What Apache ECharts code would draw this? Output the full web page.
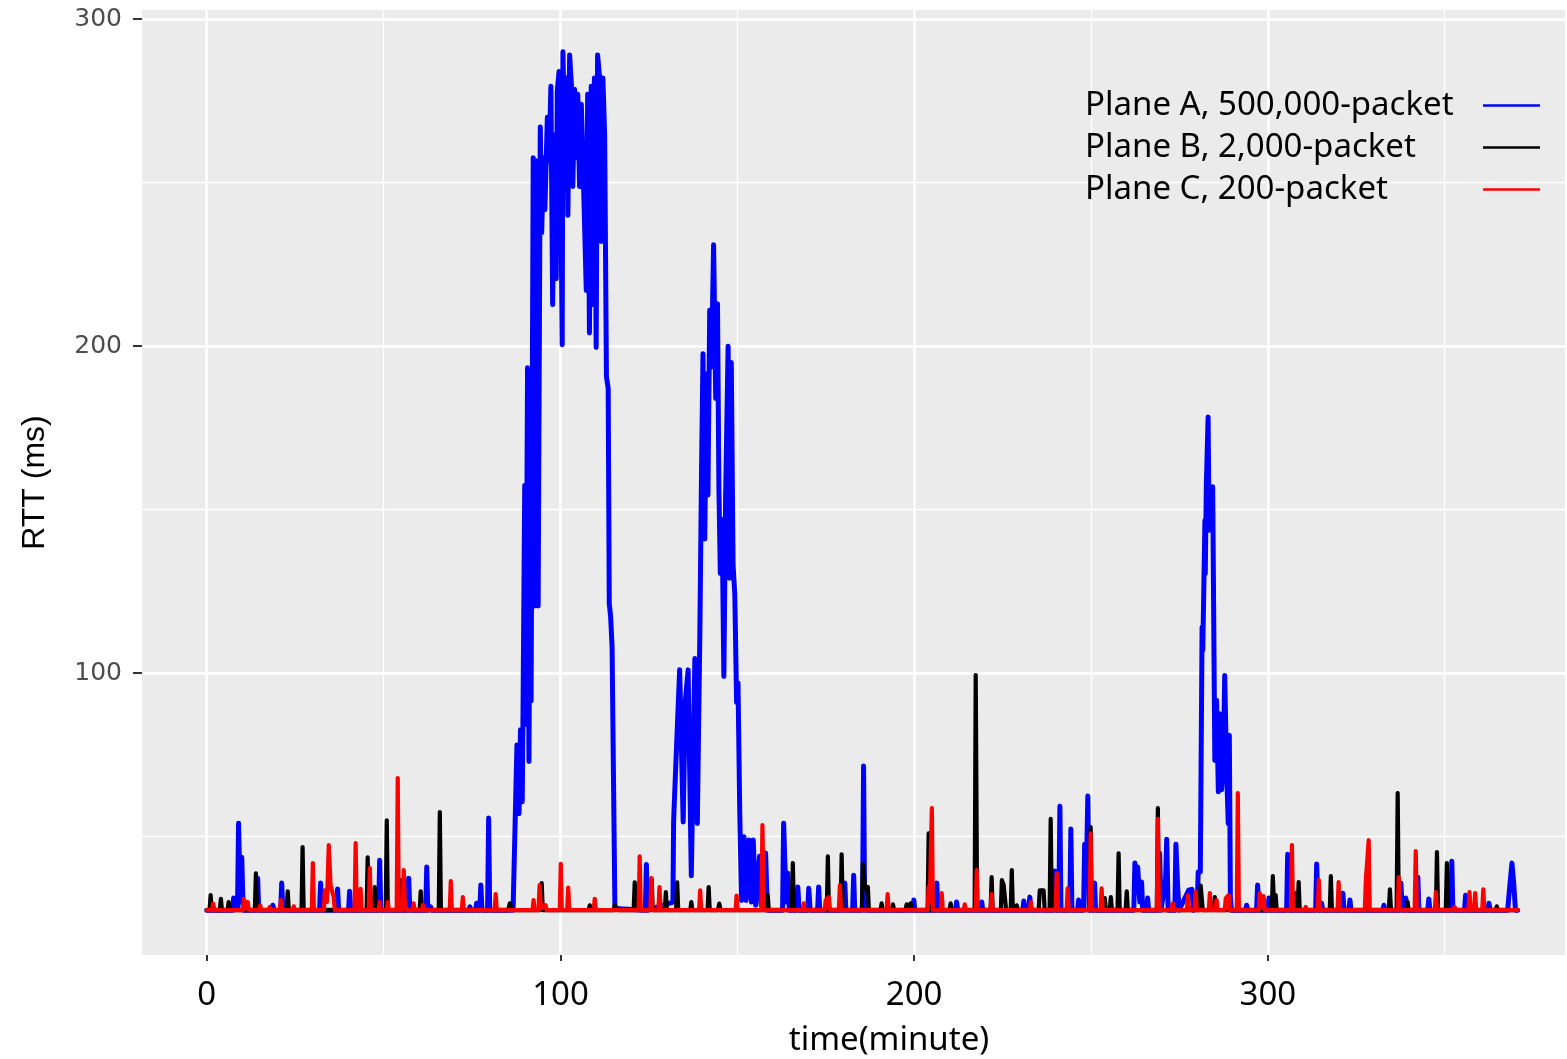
<!DOCTYPE html>
<html>
<head>
<meta charset="utf-8">
<script src="https://cdn.jsdelivr.net/npm/echarts@6/dist/echarts.min.js"></script>
<style>html,body{margin:0;padding:0;background:#fff}#c{width:1567px;height:1059px}</style>
</head>
<body>
<div id="c"></div>
<script>
// ---- data: [time (minute), RTT (ms)] ----
const seriesNames = ['Plane A, 500,000-packet', 'Plane B, 2,000-packet', 'Plane C, 200-packet'];
const xTicks = [0, 100, 200, 300];
const xMinorTicks = [50, 150, 250, 350];
const yTicks = [100, 200, 300];
const yMinorTicks = [50, 150, 250];

const planeA = [
[0,27.5],[7.3,27.5],[7.6,31.2],[8,27.8],[8.7,28],[9,54.1],[9.5,30],[9.9,43.7],[10.3,27.5],
[14.1,27.5],[14.4,37.3],[14.7,27.5],[18.4,27.5],[18.7,29],[19,27.5],[20.9,27.5],[21.2,35.8],[21.5,27.5],
[31.9,27.5],[32.2,35.8],[32.5,27.5],[36.7,27.5],[37,34],[37.3,27.5],[40.1,27.5],[40.4,33.3],[40.7,27.5],
[48.6,27.5],[48.9,42.8],[49.2,27.5],[56.8,27.5],[57.1,37.3],[57.4,27.5],[61.9,27.5],[62.2,40.7],[62.5,27.5],[63.3,28.5],[63.6,27.5],
[74.1,27.5],[74.4,28.5],[74.7,27.5],[76,27.5],[76.3,29.6],[76.6,27.5],[77.2,27.5],[77.5,35.2],[77.8,27.5],
[79.4,27.5],[79.7,55.7],[80,27.5],
[86.6,27.5],[87.1,50],[87.7,78],[88.3,57],[88.7,82.7],[89.2,60.7],[89.4,85],[89.9,157.4],[90.2,84.4],[90.7,193.4],[91.1,73],[91.5,159],[91.7,91.5],[92.3,257.6],[92.7,120.5],[93.2,256.7],[93.7,120.5],[94.3,267],[94.7,234.7],[95.2,257.6],[95.6,241.7],[96.3,270],[96.8,256.7],[97.3,279.5],[97.8,212.7],[98.3,264.6],[98.8,220.6],[99.1,277.8],[99.6,284],[100.1,247],[100.5,200.4],[100.7,290],[101.2,264.6],[101.7,282],[102.1,240],[102.6,289],[103.1,280],[103.5,248.8],[104,278.6],[104.5,257.6],[104.9,277],[105.4,248.8],[105.9,274],[106.3,259],[106.8,238],[107.3,217],[107.7,277],[108.2,204],[108.7,279.5],[109.1,212.7],[109.6,282],[110.1,199.6],[110.5,289],[111.1,282],[111.5,232],[112,282],[112.5,264.6],[113,190.8],[113.5,187],[113.8,121.4],[114.2,117],[114.6,108],[114.9,77.4],[115.4,28],
[124,27.5],[124.3,41.5],[124.6,27.5],
[131.8,30],[132,55],[132.8,77],[133.7,101],[134.7,54.5],[135.3,91.5],[136.1,101],[137,38],[138,104.5],[138.7,54],[139.4,111],[139.9,163],[140.3,197.7],[140.8,141],[141.3,191.5],[141.7,154.5],[142.2,211],[142.7,193.6],[143.3,231],[143.9,184],[144.4,213],[144.8,156.6],[145.2,130.5],[145.7,147],[146.2,99],[146.7,154],[147.4,200],[147.8,129],[148.3,195],[148.8,133],[149.3,124],[149.8,91],[150.2,97],[150.7,56.6],[151.2,30.5],[151.9,50],[152.5,30.5],[153.3,49],[154,30],[154.5,49],[155.2,29],[156.3,44],[156.8,29],[158,45],[158.5,27.5],
[162.8,27.5],[163.1,54.1],[163.8,30],[164.3,38.8],[164.7,27.5],[166.8,27.5],[167.1,34.6],[167.5,27.5],[169.9,27.5],[170.2,34.2],[170.6,27.5],
[172.7,27.5],[173,34.6],[173.3,27.5],[180.1,27.5],[180.4,35.8],[180.7,27.5],[182.6,27.5],[182.9,38.2],[183.2,27.5],
[185.4,27.5],[185.7,71.6],[186,27.5],[199.6,27.5],[199.9,30.6],[200.2,27.5],[206.1,27.5],[206.4,35.8],[206.7,27.5],
[211.7,27.5],[212,30],[212.3,27.5],[218.8,27.5],[219.1,30],[219.4,27.5],
[230.7,27.5],[231,30.3],[231.3,27.5],[232.4,27.5],[232.7,31.5],[233,27.5],
[239.5,27.5],[239.8,39.5],[240.2,27.5],[240.9,27.5],[241.2,59.3],[241.5,27.5],[244,27.5],[244.3,52.3],[244.6,27.5],
[246.2,27.5],[246.5,30.6],[246.8,27.5],[247.9,27.5],[248.2,47.7],[248.6,35],[249.1,62.4],[249.5,27.5],[250.7,27.5],[251,35.8],[251.3,27.5],
[262.1,27.5],[262.4,41.9],[262.8,33],[263.2,40.7],[263.8,30],[264.3,36.1],[264.6,27.5],[265.7,27.5],[266,31.2],[266.3,27.5],
[269.1,27.5],[269.4,44.9],[269.8,27.5],[271.1,37.3],[271.4,49.2],[271.8,27.5],[273.7,27.5],[274,47.7],[274.5,34.6],[274.9,27.5],
[277.6,33.6],[278.5,33.9],[279,27.5],[280,28],[280.3,39.2],[280.9,39.2],[281.4,114],[281.6,107],[282.2,146.7],[282.3,130.4],[282.6,157.4],[283.1,178.3],[283.4,143.7],[283.7,157],[284.2,144.7],[284.4,157],[285,73.3],[285.5,91.7],[286,63.7],[286.4,87.6],[286.9,64.3],[287.4,72.4],[287.8,99.3],[288.3,71.3],[288.8,54],[289.1,81],[289.4,31.5],[289.7,27.5],
[293.7,27.5],[294,29],[294.3,27.5],[296.8,27.5],[297.1,35.2],[297.4,27.5],[300,27.5],[300.3,31.2],[300.6,27.5],
[305.3,27.5],[305.6,44.6],[306,27.5],[307.6,27.5],[307.9,32.7],[308.2,27.5],
[313.5,27.5],[313.8,41.6],[314.2,27.5],[314.9,27.5],[315.2,29.6],[315.5,27.5],
[320.9,27.5],[321.2,32.7],[321.5,27.5],[322.9,27.5],[323.2,30.6],[323.5,27.5],
[332.5,27.5],[332.8,29],[333.1,27.5],[337.3,27.5],[337.6,35.8],[338,27.5],[338.7,27.5],[339,31.2],[339.3,27.5],
[342.1,27.5],[342.4,37.6],[342.7,27.5],[345.2,27.5],[345.5,30.9],[345.8,27.5],
[351.7,27.5],[352,42.5],[352.3,27.5],[355.6,27.5],[355.9,32.1],[356.2,27.5],
[362.2,27.5],[362.5,29.6],[362.8,27.5],[367.8,27.5],[368.1,31.5],[369,41.9],[369.5,35.8],[370,27.5],[370.6,27.5]
];

const planeB = [
[0,27.5],[0.8,27.5],[1.1,32.1],[1.4,27.5],[3.7,27.5],[4,31],[4.3,27.5],[5.9,27.5],[6.2,30],[6.5,27.5],
[13.6,27.5],[13.9,38.8],[14.2,27.5],[22.6,27.5],[22.9,33.3],[23.2,27.5],[26.8,27.5],[27.1,46.8],[27.4,27.5],
[45.2,27.5],[45.5,43.7],[45.8,27.5],[47.2,27.5],[47.5,34.6],[47.8,27.5],[50.6,27.5],[50.9,55],[51.2,27.5],
[54.5,27.5],[54.8,36.7],[55.1,27.5],[60.2,27.5],[60.5,33.3],[60.8,27.5],[65.6,27.5],[65.9,57.5],[66.2,27.5],
[85.2,27.5],[85.7,29.6],[86.2,28],[87,27.5],[94.4,27.5],[94.7,35.8],[95,27.5],[108,27.5],[108.3,29],[108.6,27.5],
[115,27.5],[115.4,29],[116,28],[116.6,27.5],[120.7,27.5],[121,36],[121.3,27.5],[125.5,27.5],[125.8,37],[126.1,27.5],
[129.5,27.5],[129.8,33],[130.1,27.5],[132.7,27.5],[133,36],[133.3,27.5],[136.7,27.5],[137,30],[137.3,27.5],
[141.6,27.5],[141.9,34.6],[142.2,27.5],[144.5,27.5],[144.9,29.5],[145.3,27.5],
[158.3,27.5],[158.6,32.1],[158.9,27.5],[165.4,27.5],[165.7,41.9],[166,27.5],
[175.3,27.5],[175.6,44],[175.9,27.5],[179.2,27.5],[179.5,44.6],[179.8,27.5],
[185.2,27.5],[185.5,41.6],[186.2,34],[186.9,34.6],[187.2,27.5],
[190.5,27.5],[190.8,29.6],[191.1,27.5],[193.7,27.5],[194,29.3],[194.3,27.5],
[197.5,27.5],[197.9,29.3],[198.5,28.5],[199,29.6],[199.4,27.5],[203.8,27.5],[204.1,51],[204.5,27.5],
[210,27.5],[210.3,29.6],[210.6,27.5],[217.1,27.5],[217.4,99.4],[217.8,27.5],
[221.6,27.5],[221.9,37.6],[222.2,27.5],[224.5,27.5],[224.8,36.7],[225.3,35.2],[225.6,35.2],[226,27.5],
[227.3,27.5],[227.6,39.8],[227.9,27.5],[228.7,27.5],[229,29],[229.3,27.5],
[235.2,27.5],[235.5,33.6],[236.6,33.6],[236.9,27.5],[238.3,27.5],[238.6,55.4],[238.9,27.5],
[249.6,27.5],[249.9,52.9],[250.2,27.5],[253.6,27.5],[253.9,31.2],[254.2,27.5],[255.3,27.5],[255.6,31.5],[255.9,27.5],
[257.5,27.5],[257.8,44.9],[258.1,27.5],[259.8,27.5],[260.1,33.3],[260.4,27.5],
[268.6,27.5],[268.9,58.7],[269.2,27.5],[280.7,27.5],[281,35],[281.3,35.2],[281.6,27.5],
[284.7,27.5],[285,31.5],[285.3,27.5],[301.1,27.5],[301.4,37.9],[301.8,27.5],[302.2,32.1],[302.5,27.5],
[308.4,27.5],[308.7,36.1],[309,27.5],[317.5,27.5],[317.8,37.9],[318.1,27.5],
[327.7,27.5],[328,39.2],[328.3,27.5],[334.2,27.5],[334.5,33.9],[334.8,27.5],
[336.4,27.5],[336.7,63.3],[337,27.5],[339.2,27.5],[339.5,30],[339.8,27.5],
[347.5,27.5],[347.8,45.3],[348.1,27.5],[350.3,27.5],[350.6,41.9],[350.9,27.5],
[354.5,27.5],[354.8,28.1],[355.1,27.5],[364.4,27.5],[364.7,28.7],[365,27.5],[370.6,27.5]
];

const planeC = [
[0,27.5],[1.5,27.5],[1.8,29.5],[2.2,27.5],[10.2,27.5],[10.5,31],[11,28],[11.6,30],[11.9,27.5],
[14.8,27.5],[15.1,29],[15.4,27.5],[17.5,27.5],[17.8,28.5],[18.1,27.5],[20.7,27.5],[21,30.6],[21.3,27.5],
[24.3,27.5],[24.6,28.7],[24.9,27.5],[29.7,27.5],[30,41.9],[30.3,27.5],
[33.1,27.5],[33.4,33.6],[34,30],[34.5,47.4],[35,35.2],[35.9,31.5],[36.2,27.5],
[41.8,27.5],[42.1,48],[42.4,27.5],[43.2,27.5],[43.5,34],[43.8,27.5],[45.8,27.5],[46.1,40.4],[46.4,27.5],
[48.6,27.5],[48.9,30],[49.2,27.5],[50.9,27.5],[51.2,30],[51.5,27.5],
[53.7,27.5],[54,67.9],[54.3,27.5],[55.4,27.5],[55.7,39.8],[56,30],[56.4,27.5],
[58.2,27.5],[58.5,29.6],[58.8,27.5],[60.8,27.5],[61.1,29.1],[61.4,27.5],
[68.7,27.5],[69,36.4],[69.3,27.5],[72.1,27.5],[72.4,31.5],[72.7,27.5],[81.4,27.5],[81.7,32.4],[82,27.5],
[92.1,27.5],[92.4,30.6],[92.7,27.5],[93.8,27.5],[94.1,35.2],[94.5,28],[95.8,29],[96.1,27.5],
[99.8,27.5],[100.1,41.7],[100.4,27.5],[101.9,27.5],[102.2,34.4],[102.5,27.5],[109.4,27.5],[109.7,31],[110,27.5],
[122.1,27.5],[122.4,44],[122.7,27.5],[125.4,27.5],[125.7,37.3],[126,27.5],[127.7,27.5],[128,34.6],[128.3,27.5],
[139.2,27.5],[139.5,33.6],[139.8,27.5],[149.5,27.5],[149.8,32],[150.1,27.5],[156.8,27.5],[157.1,53.5],[157.5,27.5],
[168.5,27.5],[168.8,29.6],[169.1,27.5],[174.7,27.5],[175,30.6],[175.9,31.5],[176.2,27.5],
[178.7,27.5],[179,35.2],[179.3,27.5],[192.2,27.5],[192.5,32.4],[192.8,27.5],
[203.8,27.5],[204.1,34.6],[204.4,30],[205,58.7],[205.3,27.5],[207.5,27.5],[207.8,32.7],[208.1,27.5],
[214,27.5],[214.3,29.3],[214.6,27.5],[217.4,27.5],[217.7,39.8],[218,27.5],[221.6,27.5],[221.9,32.4],[222.2,27.5],
[232.7,27.5],[233,30],[233.3,27.5],[240,27.5],[240.3,38.8],[240.6,27.5],[243.1,27.5],[243.4,34.2],[243.7,27.5],
[249.6,27.5],[249.9,51],[250.2,27.5],[252.7,27.5],[253,34.2],[253.3,27.5],
[268.6,27.5],[268.9,55.4],[269.2,27.5],[272.8,27.5],[273.1,29.6],[273.4,27.5],
[277.1,27.5],[277.4,32.1],[277.7,27.5],[279.3,27.5],[279.6,33],[279.9,27.5],
[283.3,27.5],[283.6,32.7],[283.9,27.5],[285.2,27.5],[285.5,30.6],[285.8,27.5],
[287.8,27.5],[288.1,31.2],[288.9,32.1],[289.2,27.5],[291.2,27.5],[291.5,63.3],[291.8,27.5],
[297.4,27.5],[297.7,32.7],[298.2,28.5],[298.8,31.8],[299.1,27.5],[306.5,27.5],[306.8,47.4],[307.1,27.5],
[310.4,27.5],[310.7,28.5],[311,27.5],[314.1,27.5],[314.4,36.7],[314.7,27.5],[319.7,27.5],[320,36.1],[320.3,27.5],
[325.7,27.5],[326,28.1],[326.3,27.5],[327.4,27.5],[327.7,36.7],[328.5,48.9],[328.8,27.5],
[336.7,27.5],[337,37.6],[337.3,27.5],[341.5,27.5],[341.8,45.6],[342.1,27.5],[347.2,27.5],[347.5,33],[347.8,27.5],
[352.5,27.5],[352.8,28.5],[353.1,27.5],[356.7,27.5],[357,33],[357.3,27.5],[358.3,27.5],[358.6,32.7],[358.9,27.5],
[360.6,27.5],[360.9,33.9],[361.2,27.5],[370.6,27.5]
];

const colors = ['#0000FF', '#000000', '#FF0000'];
const calibriLike = "'Noto Sans', 'Open Sans', sans-serif";

const chart = echarts.init(document.getElementById('c'), null, {renderer: 'canvas'});

function gridLines(axisKey, vals, width) {
  return vals.map(v => ({[axisKey]: v, lineStyle: {color: '#FFFFFF', width: width, type: 'solid'}}));
}

const dataSeries = [planeA, planeB, planeC].map((d, i) => ({
  name: seriesNames[i],
  type: 'line',
  data: d,
  showSymbol: false,
  symbol: 'none',
  sampling: null,
  animation: false,
  z: 3 + i,
  lineStyle: {color: colors[i], width: i === 0 ? 5 : 4.2, join: 'round', cap: 'round'},
  itemStyle: {color: colors[i]},
  emphasis: {disabled: true}
}));

chart.setOption({
  animation: false,
  backgroundColor: '#FFFFFF',
  grid: {left: 142, right: 2, top: 10, bottom: 104, show: true, backgroundColor: '#EBEBEB', borderWidth: 0},
  title: {
    text: 'time(minute)', left: 884, top: 1019, textAlign: 'center',
    textStyle: {fontFamily: calibriLike, fontSize: 33, fontWeight: 'normal', color: '#000'}
  },
  legend: {
    orient: 'vertical', left: 1080, top: 84, align: 'right', itemGap: 9, z: 20,
    itemWidth: 57, itemHeight: 2.5, icon: 'rect',
    data: seriesNames,
    formatter: n => '{t|' + n + '}',
    textStyle: {
      rich: {t: {width: 393, align: 'left', fontFamily: calibriLike, fontSize: 33, lineHeight: 32, color: '#000'}}
    }
  },
  xAxis: {
    type: 'value', min: -18.3, max: 384,
    axisLine: {show: false, onZero: false},
    splitLine: {show: false},
    axisTick: {show: true, customValues: xTicks, length: 6, lineStyle: {color: '#333', width: 2}},
    axisLabel: {customValues: xTicks, margin: 24, fontFamily: calibriLike, fontSize: 33, color: '#000'}
  },
  yAxis: {
    type: 'value', min: 13.8, max: 302.8,
    name: 'RTT (ms)', nameLocation: 'middle', nameRotate: 90, nameGap: 91,
    nameTextStyle: {fontFamily: "'Liberation Sans Narrow', 'Liberation Sans', sans-serif", fontSize: 32, color: '#000'},
    axisLine: {show: false, onZero: false},
    splitLine: {show: false},
    axisTick: {show: true, customValues: yTicks, length: 9, lineStyle: {color: '#333', width: 2}},
    axisLabel: {customValues: yTicks, margin: 20, fontFamily: "'DejaVu Sans', sans-serif", fontSize: 25, color: '#4D4D4D'}
  },
  series: [{
    name: '_grid', type: 'line', data: [], z: 1, silent: true, animation: false,
    markLine: {
      silent: true, z: 1, symbol: ['none', 'none'], label: {show: false}, animation: false,
      data: [].concat(
        gridLines('xAxis', xMinorTicks, 1.3), gridLines('yAxis', yMinorTicks, 1.3),
        gridLines('xAxis', xTicks, 2.6), gridLines('yAxis', yTicks, 2.6)
      )
    }
  }].concat(dataSeries)
});
</script>
</body>
</html>
